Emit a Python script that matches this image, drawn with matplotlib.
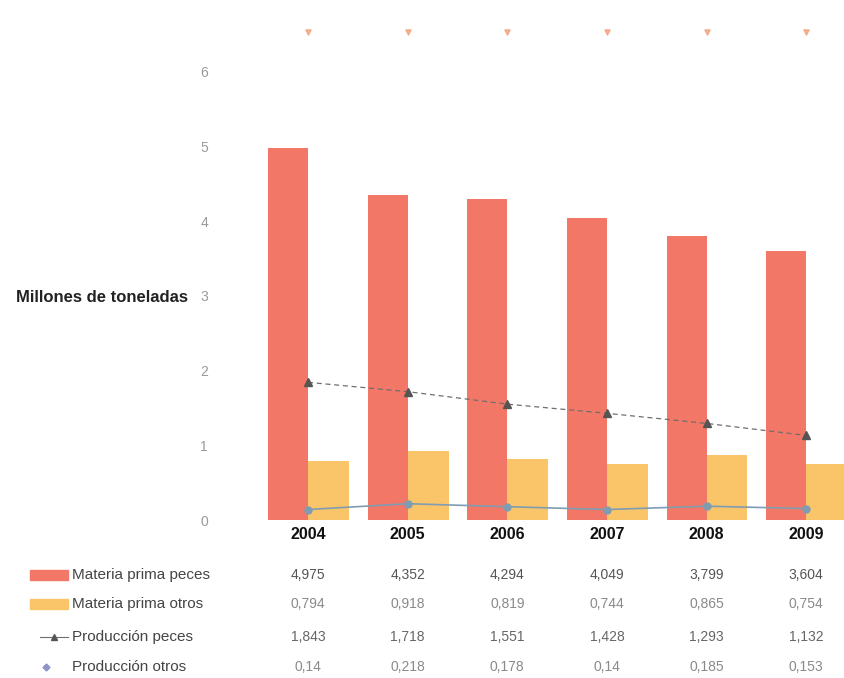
import matplotlib
matplotlib.use("Agg")
import matplotlib.pyplot as plt
import numpy as np

years = ["2004", "2005", "2006", "2007", "2008", "2009"]
mp_peces = [4.975, 4.352, 4.294, 4.049, 3.799, 3.604]
mp_otros = [0.794, 0.918, 0.819, 0.744, 0.865, 0.754]
prod_peces = [1.843, 1.718, 1.551, 1.428, 1.293, 1.132]
prod_otros = [0.14, 0.218, 0.178, 0.14, 0.185, 0.153]
series_labels = ["Materia prima peces", "Materia prima otros",
                 "Producción peces", "Producción otros"]
yticks = [0, 1, 2, 3, 4, 5, 6]

plt.rcParams["font.family"] = ["Liberation Sans", "DejaVu Sans"]

RED = "#F27767"
ORANGE = "#F9C568"
GREY_LINE = "#6E6E6E"
BLUE = "#7F9CB3"

W, H = 845, 678
fig = plt.figure(figsize=(W / 100, H / 100), dpi=100)
fig.patch.set_facecolor("white")

ax_left, ax_right = 215, 845
ax_top, ax_bottom = 20, 520
ax = fig.add_axes([ax_left / W, 1 - ax_bottom / H,
                   (ax_right - ax_left) / W, (ax_bottom - ax_top) / H])

x = np.arange(len(years))
bw_r, bw_o = 0.40, 0.41
ax.bar(x - bw_r / 2, mp_peces, width=bw_r, color=RED, zorder=2)
ax.bar(x + bw_o / 2, mp_otros, width=bw_o, color=ORANGE, zorder=2)
ax.plot(x, prod_peces, color=GREY_LINE, lw=0.9, ls=(0, (4, 3)),
        marker="^", ms=6, mfc="#555555", mec="#555555", zorder=3)
ax.plot(x, prod_otros, color=BLUE, lw=1.2, marker="o", ms=5,
        mfc=BLUE, mec=BLUE, zorder=3)

ymax = (ax_bottom - ax_top) / 74.7
ax.set_ylim(0, ymax)
ax.set_xlim(-0.934, 5.39)

# faint orange marks at top (from scan)
ax.scatter(x, [6.53] * len(x), marker="v", s=14, color="#F0A27A",
           alpha=0.8, zorder=3, clip_on=False)

ax.set_yticks(yticks)
ax.set_yticklabels([str(t) for t in yticks], color="#9A9A9A", fontsize=10)
ax.tick_params(axis="y", length=0, pad=5)
ax.set_xticks(x)
ax.set_xticklabels(years, fontsize=11.5, fontweight="bold", color="#111111")
ax.tick_params(axis="x", length=0, pad=5)
for s in ax.spines.values():
    s.set_visible(False)

fig.text(188 / W, 1 - 297 / H, "Millones de toneladas", ha="right",
         va="center", fontsize=12, fontweight="bold", color="#222222")

# Data table under the chart
row_y = [575, 604, 637, 667]
table = [mp_peces, mp_otros, prod_peces, prod_otros]
value_colors = ["#555555", "#8A8A8A", "#666666", "#8A8A8A"]

def fmt(v):
    s = ("%.3f" % v).rstrip("0")
    if s.endswith("."):
        s = s[:-1]
    return s.replace(".", ",")

def to_fig(px, py):
    return px / W, 1 - py / H

for r, (yy, vals, lab) in enumerate(zip(row_y, table, series_labels)):
    fx, fy = to_fig(72, yy)
    fig.text(fx, fy, lab, ha="left", va="center", fontsize=11,
             color="#444444")
    for i, v in enumerate(vals):
        px = ax_left + (i - (-0.934)) / (5.39 + 0.934) * (ax_right - ax_left)
        tx, ty = to_fig(px, yy)
        fig.text(tx, ty, fmt(v), ha="center", va="center", fontsize=10,
                 color=value_colors[r])

# legend symbols
for yy, col in [(row_y[0], RED), (row_y[1], ORANGE)]:
    fx, fy = to_fig(30, yy + 5)
    fig.patches.append(plt.Rectangle((fx, fy), 38 / W, 10 / H,
                                     transform=fig.transFigure,
                                     color=col))
fx0, fy = to_fig(40, row_y[2])
fx1, _ = to_fig(68, row_y[2])
fig.lines.append(plt.Line2D([fx0, fx1], [fy, fy], transform=fig.transFigure,
                            color=GREY_LINE, lw=0.8))
fig.lines.append(plt.Line2D([(fx0 + fx1) / 2], [fy], transform=fig.transFigure,
                            marker="^", ms=5, color="#555555", lw=0))
fx, fy = to_fig(46, row_y[3])
fig.lines.append(plt.Line2D([fx], [fy], transform=fig.transFigure,
                            marker="D", ms=3.5, color="#8E94C8", lw=0))

fig.savefig("out.png", dpi=100, facecolor="white")
